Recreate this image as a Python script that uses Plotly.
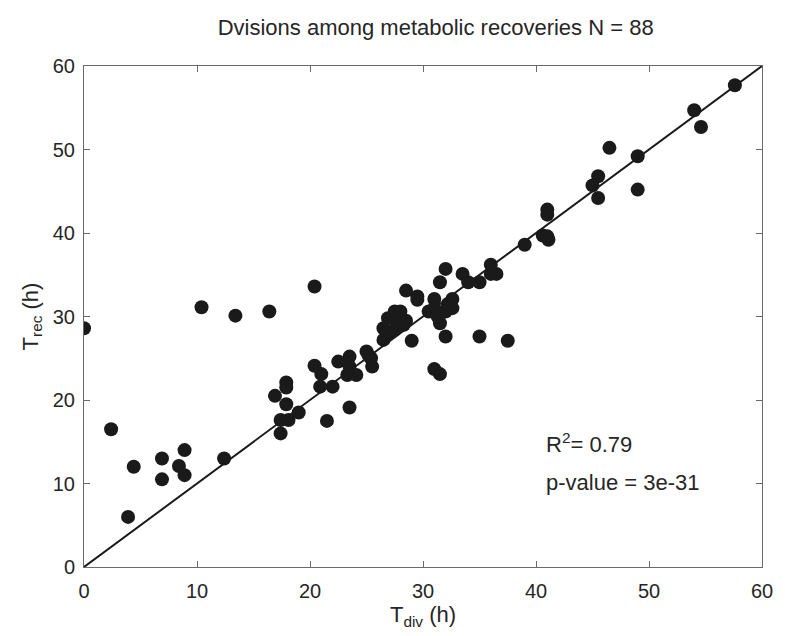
import plotly.graph_objects as go

# Division time vs metabolic recovery time (hours)
t_div = [0, 2.4, 3.9, 4.4, 6.9, 6.9, 8.4, 8.9, 8.9, 10.4,
         12.4, 13.4, 16.4, 16.9, 17.9, 17.9, 17.9, 17.4, 18.1, 17.4,
         19.0, 20.4, 20.4, 21.0, 20.9, 22.0, 21.5, 23.5, 22.5, 23.5,
         23.5, 23.3, 24.1, 25.0, 25.4, 25.5, 26.5, 26.5, 26.9, 27.5,
         28.0, 27.5, 27.7, 28.3, 29.0, 28.5, 29.5, 29.5, 31.0, 30.5,
         31.3, 31.5, 32.0, 31.5, 32.6, 32.6, 32.0, 32.0, 31.0, 31.5,
         33.5, 34.0, 35.0, 35.0, 37.5, 36.0, 36.5, 36.0, 39.0, 41.0,
         41.0, 40.6, 41.1, 45.0, 45.5, 45.5, 46.5, 49.0, 49.0, 54.0,
         54.6, 57.6, 27.0, 28.5, 31.0, 32.2, 25.2, 41.0]
t_rec = [28.6, 16.5, 6.0, 12.0, 13.0, 10.5, 12.1, 14.0, 11.0, 31.1,
         13.0, 30.1, 30.6, 20.5, 22.1, 21.5, 19.5, 17.6, 17.6, 16.0,
         18.5, 33.6, 24.1, 23.1, 21.6, 21.6, 17.5, 19.1, 24.6, 25.2,
         24.0, 23.0, 23.0, 25.8, 25.0, 24.0, 27.2, 28.6, 29.8, 30.6,
         30.6, 28.4, 29.2, 29.0, 27.1, 33.1, 32.4, 32.0, 32.1, 30.6,
         30.0, 29.2, 35.7, 34.1, 32.1, 31.0, 30.6, 27.6, 23.7, 23.1,
         35.1, 34.1, 34.1, 27.6, 27.1, 36.2, 35.1, 35.1, 38.6, 42.8,
         42.2, 39.7, 39.2, 45.7, 46.8, 44.2, 50.2, 49.2, 45.2, 54.7,
         52.7, 57.7, 28.0, 29.5, 31.0, 31.5, 25.3, 39.6]

identity = [0, 60]
ticks = [0, 10, 20, 30, 40, 50, 60]
title_text = "Dvisions among metabolic recoveries N = 88"
r2_text = "R<sup>2</sup>= 0.79"
p_text = "p-value = 3e-31"

FONT = "Liberation Sans, Arial"
TXT = "#262626"

fig = go.Figure()
fig.add_trace(go.Scatter(
    x=t_div, y=t_rec, mode="markers",
    marker=dict(color="#1a1a1a", size=14, line=dict(width=0)),
    showlegend=False,
))
fig.add_trace(go.Scatter(
    x=identity, y=identity, mode="lines",
    line=dict(color="#1a1a1a", width=2),
    showlegend=False,
))

axis_common = dict(
    range=[0, 60], tickvals=ticks, ticks="inside", ticklen=6,
    tickcolor="#6a6a6a", showline=True, linecolor="#6a6a6a", linewidth=1,
    mirror="ticks", showgrid=False, zeroline=False,
    tickfont=dict(family=FONT, size=20, color=TXT),
)

fig.update_layout(
    width=785, height=636,
    margin=dict(l=84, r=18, t=66, b=69),
    paper_bgcolor="white", plot_bgcolor="white",
    title=dict(text=title_text, x=0.555, xanchor="center", y=0.957, yanchor="middle",
               font=dict(family=FONT, size=22, color=TXT)),
    xaxis=dict(axis_common, ticklabelstandoff=6,
               title=dict(text="T<sub>div</sub> (h)", standoff=5,
                          font=dict(family=FONT, size=22, color=TXT))),
    yaxis=dict(axis_common, ticklabelstandoff=4,
               title=dict(text="T<sub>rec</sub> (h)", standoff=8,
                          font=dict(family=FONT, size=22, color=TXT))),
    annotations=[
        dict(x=40.7, y=14.9, xref="x", yref="y", text=r2_text, showarrow=False,
             xanchor="left", yanchor="middle",
             font=dict(family=FONT, size=22, color=TXT)),
        dict(x=40.7, y=10.1, xref="x", yref="y", text=p_text, showarrow=False,
             xanchor="left", yanchor="middle",
             font=dict(family=FONT, size=22, color=TXT)),
    ],
)

fig.write_html("out.html")
